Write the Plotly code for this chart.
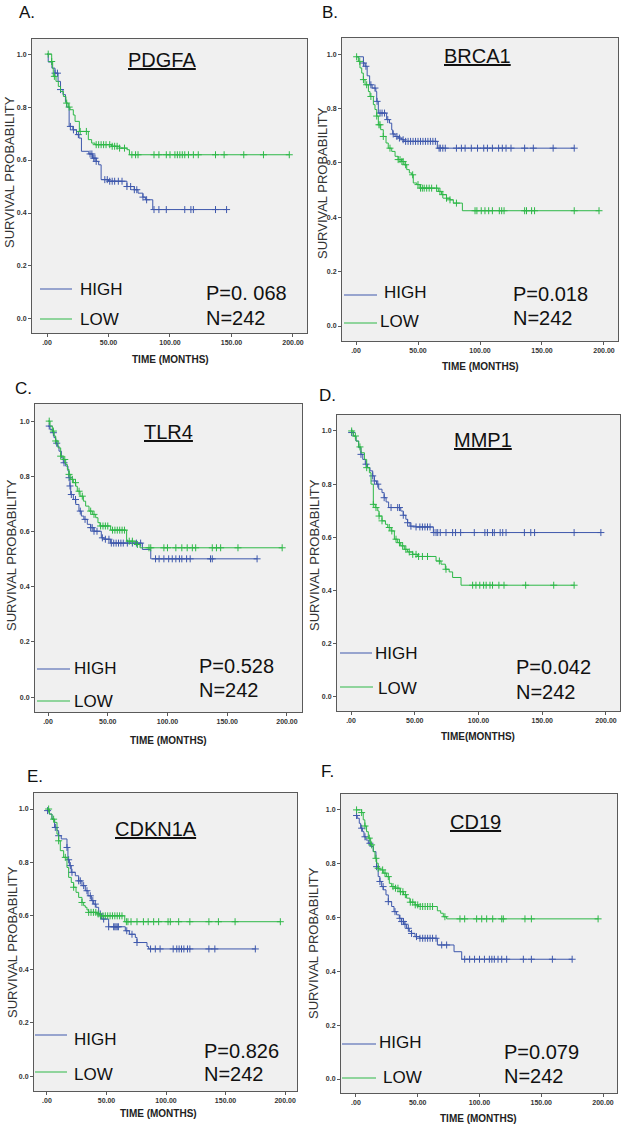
import numpy as np
import plotly.graph_objects as go

# ---------------- DATA ----------------
GENES = ["PDGFA", "BRCA1", "TLR4", "MMP1", "CDKN1A", "CD19"]
PANEL_LETTERS = ["A.", "B.", "C.", "D.", "E.", "F."]
P_TEXT = ["P=0. 068", "P=0.018", "P=0.528", "P=0.042", "P=0.826", "P=0.079"]
N_TEXT = ["N=242"] * 6
X_TITLES = ["TIME (MONTHS)", "TIME (MONTHS)", "TIME (MONTHS)", "TIME(MONTHS)", "TIME (MONTHS)", "TIME (MONTHS)"]
Y_TITLE = "SURVIVAL PROBABILITY"
GROUPS = ["HIGH", "LOW"]
X_TICKS = [0, 50, 100, 150, 200]
X_TICK_LABELS = [".00", "50.00", "100.00", "150.00", "200.00"]
Y_TICKS = [0, 0.2, 0.4, 0.6, 0.8, 1.0]
Y_TICK_LABELS = ["0.0", "0.2", "0.4", "0.6", "0.8", "1.0"]

# PDGFA
PDGFA_HIGH_T = [0, 1, 4, 6.5, 9, 11, 13, 15, 16, 18, 21, 24, 26, 28, 34, 37, 40, 42, 44, 50, 65, 71, 74, 78, 80, 86]
PDGFA_HIGH_S = [1.0, 0.97, 0.947, 0.928, 0.897, 0.866, 0.847, 0.82, 0.80, 0.727, 0.714, 0.696, 0.683, 0.633, 0.623, 0.607, 0.595, 0.582, 0.526, 0.52, 0.50, 0.488, 0.475, 0.46, 0.45, 0.413]
PDGFA_HIGH_C = [6.5, 8.5, 11, 19, 21.5, 25.5, 35, 36.5, 38, 39, 40, 47, 49, 51, 53, 55, 58, 61, 65, 68, 71, 73, 78, 81, 87, 91, 97, 112, 117, 119, 137, 146]
PDGFA_LOW_T = [0, 3.8, 4.6, 5.1, 7.3, 9.2, 11, 13.3, 15.4, 17.3, 18.7, 21.4, 22.8, 26.3, 33.6, 36.3, 39, 52.6, 59, 65, 67]
PDGFA_LOW_S = [1.0, 0.972, 0.947, 0.916, 0.897, 0.878, 0.859, 0.84, 0.815, 0.80, 0.79, 0.77, 0.746, 0.708, 0.677, 0.664, 0.658, 0.652, 0.645, 0.639, 0.62]
PDGFA_LOW_C = [1, 3.8, 6, 16, 18, 27, 32, 40, 42, 44, 46, 48, 51, 53, 55, 57, 59, 63, 69, 72, 74, 87, 91, 97, 100, 104, 106, 108, 110, 112, 115, 119, 123, 137, 144, 160, 176, 197]

# BRCA1
BRCA1_HIGH_T = [0, 6, 7.3, 9, 11, 13, 16, 16.7, 18, 24.7, 27, 28.8, 29.6, 31.5, 34, 36.8, 38.7, 65.6]
BRCA1_HIGH_S = [0.99, 0.967, 0.955, 0.92, 0.887, 0.875, 0.862, 0.826, 0.783, 0.759, 0.746, 0.721, 0.706, 0.697, 0.691, 0.685, 0.679, 0.654]
BRCA1_HIGH_C = [6, 8, 12, 15.3, 17, 19.4, 21, 23, 25.6, 30, 33, 35, 38, 40, 42, 44, 46, 48, 50, 52, 54, 56, 58, 60, 62, 64, 67, 68, 70, 72, 81, 85, 88, 93, 98, 103, 106, 110, 115, 118, 121, 125, 136, 143, 159, 176]
BRCA1_LOW_T = [0, 1.9, 3.2, 4.6, 5.9, 7.3, 10, 11.3, 14, 15.3, 16.7, 18, 19.9, 22, 24.2, 26, 28.8, 31.5, 34, 36.8, 38.7, 40.9, 43, 44.9, 46.2, 49, 51.6, 66.4, 69, 73, 75.8, 78.5, 85.8]
BRCA1_LOW_S = [0.99, 0.973, 0.949, 0.93, 0.906, 0.887, 0.862, 0.844, 0.814, 0.796, 0.772, 0.74, 0.722, 0.697, 0.673, 0.654, 0.642, 0.624, 0.612, 0.605, 0.593, 0.575, 0.563, 0.556, 0.526, 0.52, 0.507, 0.495, 0.483, 0.47, 0.464, 0.452, 0.424]
BRCA1_LOW_C = [0.5, 3, 6, 8.6, 12, 16.7, 18.5, 19.4, 22, 27.4, 34, 35.5, 37, 38, 40, 45.7, 50, 52, 53.5, 55, 57, 59, 61, 65, 67.7, 70, 73, 75.8, 81, 96, 97.5, 101, 104, 107, 110, 115.6, 117.5, 119.4, 136, 137.5, 141.6, 144, 176, 196]

# TLR4
TLR4_HIGH_T = [0, 1.7, 3.6, 5, 6.4, 7.8, 9.2, 11.2, 12.8, 14.8, 16.7, 17.5, 18.4, 19, 21.2, 23.2, 25.9, 27.9, 30, 32.9, 35.7, 38.5, 44.6, 46.9, 52.4, 79, 86]
TLR4_HIGH_S = [0.982, 0.97, 0.958, 0.94, 0.92, 0.909, 0.891, 0.867, 0.849, 0.837, 0.819, 0.795, 0.765, 0.734, 0.716, 0.698, 0.674, 0.656, 0.644, 0.626, 0.614, 0.601, 0.577, 0.572, 0.558, 0.535, 0.501]
TLR4_HIGH_C = [1, 4.5, 7.3, 13.4, 17.6, 18.4, 19.5, 23, 27, 31, 35.7, 37, 38.5, 41, 45.5, 48, 51, 53, 55, 57, 59, 61, 63, 66.4, 70.6, 74, 77.5, 90, 93, 97, 101, 104, 107, 110, 112, 116, 119, 136, 137.5, 175]
TLR4_LOW_T = [0, 1.7, 3.6, 5, 6.4, 8.4, 10.6, 12.8, 14.8, 16.2, 17.6, 19, 21.2, 23.2, 24.5, 26.8, 29.6, 31.5, 34.3, 37.1, 39.9, 41.8, 43.5, 52.4, 65.8, 73.4, 77]
TLR4_LOW_S = [1.0, 0.982, 0.964, 0.946, 0.928, 0.903, 0.873, 0.861, 0.843, 0.825, 0.807, 0.789, 0.777, 0.764, 0.746, 0.728, 0.71, 0.692, 0.674, 0.662, 0.65, 0.632, 0.62, 0.605, 0.565, 0.553, 0.541]
TLR4_LOW_C = [1, 4.5, 6.4, 10.6, 14, 17.6, 20.4, 23, 26, 28.7, 35.7, 38.5, 44, 46, 48, 50, 54, 56, 58, 60, 62, 64, 68, 70.6, 74.8, 84.5, 86, 97, 100, 107, 112, 116.5, 120.8, 123.6, 137.5, 141, 144.5, 159, 196]

# MMP1
MMP1_HIGH_T = [0, 1.8, 3.9, 6, 7.8, 9.2, 11.2, 13, 14.9, 17, 18.3, 20, 21.7, 24.3, 26, 27.5, 29.5, 39, 41, 43, 44.4, 46.3, 51, 64.6]
MMP1_HIGH_S = [0.994, 0.981, 0.962, 0.937, 0.912, 0.893, 0.875, 0.862, 0.85, 0.831, 0.812, 0.8, 0.781, 0.768, 0.749, 0.733, 0.712, 0.699, 0.683, 0.668, 0.655, 0.642, 0.639, 0.618]
MMP1_HIGH_C = [0.5, 7.8, 11.8, 17, 18.3, 21, 26, 31.4, 36.6, 38, 41, 44.4, 47, 51, 54, 56, 58, 60, 62, 65, 66.7, 68, 70, 74.5, 79.7, 82, 86, 96.7, 105, 107, 111, 112.4, 117, 119, 121.6, 136, 141, 144, 175, 196]
MMP1_LOW_T = [0, 1.8, 3.9, 6, 7.8, 10.5, 12.3, 14.4, 15.7, 17.5, 19, 21, 22, 24.3, 27, 28.8, 31.4, 34, 36.6, 39, 41.8, 44.4, 48.4, 52.3, 66.7, 70.6, 74, 77, 79.7, 86.3]
MMP1_LOW_S = [1.0, 0.981, 0.962, 0.94, 0.918, 0.893, 0.862, 0.843, 0.8, 0.724, 0.712, 0.699, 0.68, 0.662, 0.649, 0.637, 0.624, 0.593, 0.58, 0.568, 0.555, 0.545, 0.536, 0.528, 0.511, 0.499, 0.48, 0.47, 0.449, 0.42]
MMP1_LOW_C = [0.5, 3.4, 7, 12.3, 17.5, 19.6, 22, 24.3, 30, 32, 35.3, 38, 40.5, 43, 45.7, 48.4, 51, 53, 56, 60, 69.3, 74.5, 95.4, 98, 101, 104, 106, 109, 111, 116, 120, 137, 159, 175]

# CDKN1A
CDKN1A_HIGH_T = [0, 2, 4.2, 6.4, 8.4, 9.8, 12, 16.8, 17.6, 18.8, 20.4, 23.8, 26.6, 29.4, 32.2, 34.5, 37.3, 39.2, 41.2, 43.4, 45.7, 51.8, 65.8, 69.2, 74.2, 75.6, 84, 85.4]
CDKN1A_HIGH_S = [0.994, 0.981, 0.962, 0.931, 0.919, 0.9, 0.888, 0.856, 0.81, 0.788, 0.763, 0.75, 0.731, 0.713, 0.694, 0.675, 0.657, 0.644, 0.632, 0.607, 0.588, 0.559, 0.544, 0.531, 0.519, 0.5, 0.485, 0.476]
CDKN1A_HIGH_C = [0.5, 7, 9.8, 16.8, 18.2, 19.6, 21, 26.6, 28, 30.8, 33.6, 36.4, 38.5, 40.6, 44.8, 47.6, 51.8, 56, 57, 58, 59, 60, 67, 71.4, 75.6, 87, 91, 95, 106, 109, 111, 113, 115, 118, 120, 136, 141, 175]
CDKN1A_LOW_T = [0, 2, 4.2, 6.4, 8.4, 9.8, 11.2, 14, 16.8, 18.2, 20.4, 22.4, 24.4, 26.6, 29.4, 30.8, 32.2, 33.6, 35, 42, 44.8, 65.3]
CDKN1A_LOW_S = [1.0, 0.981, 0.962, 0.95, 0.906, 0.881, 0.844, 0.819, 0.781, 0.744, 0.725, 0.707, 0.688, 0.669, 0.65, 0.638, 0.632, 0.622, 0.613, 0.607, 0.6, 0.578]
CDKN1A_LOW_C = [1.4, 5.6, 9.8, 15.4, 22.4, 29.4, 35, 37, 39, 41, 43, 45, 47, 49, 51, 53, 55, 57, 59, 61, 63, 66.7, 68, 70.6, 75.6, 81, 85, 89.6, 93.8, 101.7, 103.6, 110.6, 120, 136, 144, 158, 196]

# CD19
CD19_HIGH_T = [0, 1, 2.7, 3.8, 5.4, 6.5, 8.1, 10, 11.9, 14, 16.2, 16.7, 18, 19.4, 20.8, 22.1, 24.3, 26.2, 28.9, 30.8, 32.9, 35.1, 37, 38.9, 41, 43.2, 45, 47.8, 51.8, 65.9, 79.4, 85.6]
CD19_HIGH_S = [0.979, 0.969, 0.95, 0.932, 0.919, 0.9, 0.888, 0.876, 0.864, 0.845, 0.82, 0.789, 0.752, 0.734, 0.715, 0.703, 0.684, 0.659, 0.641, 0.622, 0.61, 0.597, 0.585, 0.575, 0.56, 0.548, 0.541, 0.529, 0.523, 0.498, 0.473, 0.445]
CD19_HIGH_C = [0.5, 4.6, 7.3, 11.3, 16.7, 19.4, 22, 26.2, 31.6, 35.6, 37, 38.5, 39.7, 42.4, 45, 49, 51.8, 54, 56, 58, 60, 62, 64.8, 69.4, 73.4, 88, 92, 96, 100, 104, 108, 110, 112, 115, 118, 122, 135.5, 142, 159, 175]
CD19_LOW_T = [0, 4.6, 5.9, 7.2, 8.6, 10, 11.9, 14, 15.4, 16.7, 18, 19.4, 22.1, 24.8, 27, 28.9, 31.6, 35.6, 38.5, 41, 43.7, 47.8, 50.5, 65.9, 68.6, 70.7, 73.4]
CD19_LOW_S = [1.0, 0.99, 0.963, 0.94, 0.919, 0.895, 0.87, 0.845, 0.82, 0.802, 0.783, 0.777, 0.765, 0.752, 0.727, 0.715, 0.709, 0.696, 0.685, 0.672, 0.657, 0.647, 0.641, 0.625, 0.616, 0.603, 0.595]
CD19_LOW_C = [0.5, 4.6, 7.3, 10.8, 12.7, 16.2, 18, 21.6, 23.5, 26.2, 30, 32, 34, 36, 38, 40, 44, 46, 48, 50, 52, 54, 56, 58, 60, 62, 72, 84.2, 88, 97.7, 101.8, 105.8, 110.7, 118, 119.3, 136.8, 142, 196]

CURVES = [
    ((PDGFA_HIGH_T, PDGFA_HIGH_S, PDGFA_HIGH_C), (PDGFA_LOW_T, PDGFA_LOW_S, PDGFA_LOW_C)),
    ((BRCA1_HIGH_T, BRCA1_HIGH_S, BRCA1_HIGH_C), (BRCA1_LOW_T, BRCA1_LOW_S, BRCA1_LOW_C)),
    ((TLR4_HIGH_T, TLR4_HIGH_S, TLR4_HIGH_C), (TLR4_LOW_T, TLR4_LOW_S, TLR4_LOW_C)),
    ((MMP1_HIGH_T, MMP1_HIGH_S, MMP1_HIGH_C), (MMP1_LOW_T, MMP1_LOW_S, MMP1_LOW_C)),
    ((CDKN1A_HIGH_T, CDKN1A_HIGH_S, CDKN1A_HIGH_C), (CDKN1A_LOW_T, CDKN1A_LOW_S, CDKN1A_LOW_C)),
    ((CD19_HIGH_T, CD19_HIGH_S, CD19_HIGH_C), (CD19_LOW_T, CD19_LOW_S, CD19_LOW_C)),
]

# ---------------- LAYOUT (pixels) ----------------
W, H = 625, 1129
COLORS = {"HIGH": "#3E58AC", "LOW": "#2EB848"}
FONT = "Liberation Sans, Arial, sans-serif"

PANELS = [
    dict(box=(32, 39, 307, 333), xr=(-12.2, 211.4), yr=(-0.053, 1.057), letter=(27, 13), gene=(162, 60),
         ytitle=(10, 172), xtitle=(170, 359), hl=(40, 72, 289), ht=(78, 289), ll=(40, 72, 319), lt=(78, 319),
         p=(204, 293), n=(204, 318)),
    dict(box=(342, 38, 618, 341), xr=(-11.3, 211.3), yr=(-0.055, 1.059), letter=(330, 13), gene=(477, 56),
         ytitle=(323, 183), xtitle=(480, 367), hl=(344, 377, 295), ht=(382, 292), ll=(344, 377, 323), lt=(378, 321),
         p=(511, 294), n=(511, 318)),
    dict(box=(35, 404, 302, 712), xr=(-10.9, 212.6), yr=(-0.054, 1.062), letter=(23, 389), gene=(169, 432),
         ytitle=(12, 555), xtitle=(168, 740), hl=(37, 70, 669), ht=(72, 668), ll=(37, 70, 701), lt=(72, 701),
         p=(197, 666), n=(197, 690)),
    dict(box=(337, 415, 620, 711), xr=(-11.0, 211.0), yr=(-0.053, 1.06), letter=(327, 395), gene=(483, 440),
         ytitle=(315, 555), xtitle=(478, 736), hl=(340, 372, 653), ht=(373, 653), ll=(340, 373, 687), lt=(376, 688),
         p=(514, 667), n=(514, 692)),
    dict(box=(34, 793, 297, 1091), xr=(-10.9, 210.0), yr=(-0.056, 1.06), letter=(35, 776), gene=(156, 829),
         ytitle=(12, 942), xtitle=(158, 1113), hl=(35, 67, 1035), ht=(72, 1039), ll=(35, 67, 1072), lt=(72, 1074),
         p=(202, 1051), n=(202, 1074)),
    dict(box=(341, 794, 617, 1093), xr=(-12.1, 211.3), yr=(-0.052, 1.059), letter=(327, 771), gene=(475, 822),
         ytitle=(313, 943), xtitle=(478, 1118), hl=(342, 376, 1044), ht=(377, 1042), ll=(342, 376, 1078), lt=(381, 1077),
         p=(502, 1052), n=(502, 1076)),
]


def px(x, y):
    return x / W, 1 - y / H


fig = go.Figure()
annotations = []
shapes = []

for i, (panel, curves) in enumerate(zip(PANELS, CURVES)):
    k = "" if i == 0 else str(i + 1)
    xa, ya = "x" + k, "y" + k
    for grp, (t, s, c) in zip(GROUPS, curves):
        t = np.asarray(t, float)
        s = np.asarray(s, float)
        c = np.asarray(c, float)
        end = max(c.max(), t.max())
        xs = np.append(t, end)
        ys = np.append(s, s[-1])
        fig.add_trace(go.Scatter(x=xs, y=ys, mode="lines", line=dict(color=COLORS[grp], width=1, shape="hv"),
                                 xaxis=xa, yaxis=ya, showlegend=False, name=grp, hoverinfo="skip"))
        cy = s[np.clip(np.searchsorted(t, c, side="right") - 1, 0, len(s) - 1)]
        fig.add_trace(go.Scatter(x=c, y=cy, mode="markers",
                                 marker=dict(symbol="cross-thin", size=5, line=dict(color=COLORS[grp], width=1)),
                                 xaxis=xa, yaxis=ya, showlegend=False, name=grp + " censored", hoverinfo="skip"))

    L, T, R, B = panel["box"]
    axis_common = dict(showline=True, mirror=True, linecolor="#5a5a5a", linewidth=1, ticks="outside", ticklen=3,
                       tickcolor="#5a5a5a", showgrid=False, zeroline=False,
                       tickfont=dict(family=FONT, size=7, color="#333333", weight="bold"))
    fig.layout["xaxis" + k] = dict(domain=[L / W, R / W], range=list(panel["xr"]), anchor=ya,
                                   tickvals=X_TICKS, ticktext=X_TICK_LABELS, **axis_common)
    fig.layout["yaxis" + k] = dict(domain=[1 - B / H, 1 - T / H], range=list(panel["yr"]), anchor=xa,
                                   tickvals=Y_TICKS, ticktext=Y_TICK_LABELS, **axis_common)

    def ann(text, pos, size, xanchor="center", color="#111111", angle=0, bold=False):
        x, y = px(*pos)
        annotations.append(dict(text=text, x=x, y=y, xref="paper", yref="paper", xanchor=xanchor, yanchor="middle",
                                showarrow=False, textangle=angle,
                                font=dict(family=FONT, size=size, color=color, weight="bold" if bold else "normal")))

    ann(PANEL_LETTERS[i], panel["letter"], 17)
    ann("<u>" + GENES[i] + "</u>", panel["gene"], 20)
    ann(Y_TITLE, panel["ytitle"], 13, color="#333333", angle=-90)
    ann(X_TITLES[i], panel["xtitle"], 10, color="#222222", bold=True)
    ann(GROUPS[0], panel["ht"], 17, xanchor="left")
    ann(GROUPS[1], panel["lt"], 17, xanchor="left")
    ann(P_TEXT[i], panel["p"], 20, xanchor="left")
    ann(N_TEXT[i], panel["n"], 20, xanchor="left")
    for grp, key in zip(GROUPS, ["hl", "ll"]):
        x0, x1, yy = panel[key]
        a0, b0 = px(x0, yy)
        a1, _ = px(x1, yy)
        shapes.append(dict(type="line", xref="paper", yref="paper", x0=a0, x1=a1, y0=b0, y1=b0,
                           line=dict(color=COLORS[grp], width=1)))

fig.update_layout(width=W, height=H, autosize=False, margin=dict(l=0, r=0, t=0, b=0),
                  paper_bgcolor="white", plot_bgcolor="#f0f0f0",
                  annotations=annotations, shapes=shapes, showlegend=False)

fig.write_html("out.html", config={"displayModeBar": False, "staticPlot": True},
               post_script="document.body.style.margin='0';document.documentElement.style.overflow='hidden';")
